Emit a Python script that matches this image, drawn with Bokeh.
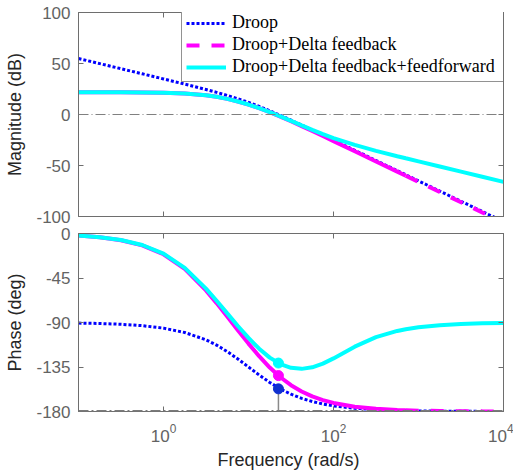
from bokeh.plotting import figure
from bokeh.models import (LogAxis, LinearAxis, FixedTicker, Span, Legend,
                          LegendItem, Range1d, CustomJSTickFormatter)
from bokeh.layouts import column
from bokeh.embed import file_html
from bokeh.resources import INLINE

# Bode data: frequency (rad/s), magnitude (dB) and phase (deg)
freq = [0.1, 0.1778, 0.3162, 0.5623, 1.0, 1.778, 3.162, 4.217, 5.623, 7.499,
        10.0, 13.34, 17.78, 23.71, 31.62, 42.17, 56.23, 74.99, 100.0, 177.8,
        316.2, 562.3, 707.9, 1000.0, 1778.0, 3162.0, 5623.0, 10000.0]

droop_mag = [54.9, 49.9, 44.9, 39.9, 34.86, 29.77, 24.49, 21.69, 18.71, 15.46,
             11.89, 7.96, 3.71, -0.81, -5.51, -10.34, -15.23, -20.18, -25.14,
             -35.11, -45.1, -55.1, -59.1, -65.1, -75.1, -85.1, -95.1, -105.1]
droop_phase = [-90.6, -91.0, -91.8, -93.2, -95.7, -100.1, -107.5, -112.9,
               -119.4, -126.9, -135.0, -143.1, -150.6, -157.1, -162.5, -166.7,
               -169.9, -172.4, -174.3, -176.8, -178.2, -179.0, -179.2, -179.4,
               -179.7, -179.8, -179.9, -179.9]

delta_mag = [21.80, 21.79, 21.77, 21.68, 21.43, 20.69, 18.87, 17.33, 15.30,
             12.76, 9.73, 6.21, 2.25, -2.06, -6.63, -11.37, -16.22, -21.13,
             -26.08, -36.04, -46.03, -56.02, -60.02, -66.02, -76.02, -86.02,
             -96.02, -106.02]
delta_phase = [-2.14, -3.81, -6.76, -11.97, -20.99, -35.81, -57.49, -70.39,
               -83.98, -97.80, -111.33, -124.11, -135.57, -145.36, -153.39,
               -159.75, -164.69, -168.46, -171.32, -175.11, -177.24, -178.45,
               -178.77, -179.13, -179.51, -179.73, -179.84, -179.91]

ff_mag = [21.80, 21.79, 21.77, 21.68, 21.43, 20.69, 18.87, 17.33, 15.31, 12.79,
          9.77, 6.28, 2.38, -1.82, -6.22, -10.66, -15.03, -19.19, -23.07,
          -29.85, -35.61, -40.89, -42.94, -45.98, -51.01, -56.02, -61.02,
          -66.02]
ff_phase = [-2.09, -3.71, -6.58, -11.65, -20.42, -34.79, -55.68, -67.98,
            -80.76, -93.51, -105.62, -116.51, -125.49, -132.02, -135.84,
            -136.88, -135.34, -131.59, -126.32, -114.47, -104.79, -98.53,
            -96.81, -94.84, -92.73, -91.54, -90.86, -90.48]

# phase at the gain crossover of each loop
margin_freq = [22.5, 22.5, 22.5]
margin_phase = [-157.1, -143.7, -131.0]

labels = ["Droop", "Droop+Delta feedback", "Droop+Delta feedback+feedforward"]
mag_ticks = [-100, -50, 0, 50, 100]
phase_ticks = [-180, -135, -90, -45, 0]
freq_ticks = [1, 100, 10000]

BLUE, MAGENTA, CYAN = "#0000FF", "#FF00FF", "#00FFFF"
AXIS_GRAY = "#6e6e6e"
TICK_TEXT = "#636363"
SANS = "Liberation Sans"

# the Delta-feedback trace switches to a dashed look above ~700 rad/s
split = freq.index(707.9)


def style_axis(ax, show_labels=True):
    ax.axis_line_color = AXIS_GRAY
    ax.major_tick_line_color = AXIS_GRAY
    ax.major_tick_in = 5
    ax.major_tick_out = 0
    ax.minor_tick_line_color = None
    ax.major_label_text_color = TICK_TEXT
    ax.major_label_text_font = SANS
    ax.axis_label_text_font = SANS
    ax.axis_label_text_font_style = "normal"
    ax.axis_label_text_font_size = "18px"
    ax.axis_label_text_color = "#262626"
    if show_labels:
        ax.major_label_text_font_size = "17px"
    else:
        # tick marks only
        ax.formatter = CustomJSTickFormatter(code="return ''")
        ax.major_label_text_font_size = "1px"
        ax.major_label_standoff = 0


def make_fig(height, yr, yticks, top, bottom, x_labels, **kw):
    p = figure(width=513, height=height, x_axis_type="log",
               x_range=Range1d(0.1, 1e4), y_range=Range1d(*yr),
               output_backend="svg", toolbar_location=None,
               min_border_left=78, min_border_right=10,
               min_border_top=top, min_border_bottom=bottom, **kw)
    p.grid.visible = False
    p.outline_line_color = AXIS_GRAY
    p.background_fill_color = "white"

    xax = p.below[0]
    yax = p.left[0]
    xax.ticker = FixedTicker(ticks=freq_ticks)
    yax.ticker = FixedTicker(ticks=yticks)
    style_axis(xax, x_labels)
    style_axis(yax)
    # plain hyphen for negative tick values
    yax.formatter = CustomJSTickFormatter(code="return tick.toString()")
    yax.major_label_standoff = 8
    yax.axis_label_standoff = 8

    top_ax = LogAxis(ticker=FixedTicker(ticks=freq_ticks))
    style_axis(top_ax, False)
    p.add_layout(top_ax, "above")
    right_ax = LinearAxis(ticker=FixedTicker(ticks=yticks))
    style_axis(right_ax, False)
    p.add_layout(right_ax, "right")
    return p, xax, yax


# ---- magnitude ----
p1, x1, y1 = make_fig(232, (-100, 100), mag_ticks, 12, 16, False)
p1.border_fill_color = "white"
y1.axis_label = "Magnitude (dB)"
p1.add_layout(Span(location=0, dimension="width", line_color="#808080",
                   line_width=1, line_dash="10 3 1 3"))

r1 = p1.line(freq, droop_mag, line_color=BLUE, line_width=3, line_dash="3 2")
p1.line(freq[:split + 1], delta_mag[:split + 1], line_color=MAGENTA,
        line_width=4)
r2 = p1.line(freq[split:], delta_mag[split:], line_color=MAGENTA,
             line_width=4, line_dash="13 12")
r3 = p1.line(freq, ff_mag, line_color=CYAN, line_width=4)

legend = Legend(items=[LegendItem(label=labels[0], renderers=[r1]),
                       LegendItem(label=labels[1], renderers=[r2]),
                       LegendItem(label=labels[2], renderers=[r3])],
                location=(103, 134))
legend.label_text_font = "Liberation Serif"
legend.label_text_font_size = "18px"
legend.label_text_color = "black"
legend.glyph_width = 40
legend.glyph_height = 20
legend.label_height = 20
legend.label_standoff = 6
legend.label_width = 268
legend.padding = 4
legend.spacing = 1
legend.margin = 0
legend.border_line_color = "#262626"
legend.border_line_width = 1
legend.background_fill_color = "white"
legend.background_fill_alpha = 1.0
p1.add_layout(legend)

# ---- phase ----
# the phase panel tucks up under the magnitude panel's bottom tick label
p2, x2, y2 = make_fig(250, (-180, 0), phase_ticks, 9, 63, True,
                      margin=(-8, 0, 0, 0))
p2.border_fill_alpha = 0
y2.axis_label = "Phase (deg)"
x2.axis_label = "Frequency  (rad/s)"
x2.major_label_standoff = 12
x2.axis_label_standoff = 5

p2.add_layout(Span(location=-180, dimension="width", line_color="#7a7a7a",
                   line_width=3, line_dash="10 3 2 3"))
p2.segment(x0=margin_freq[0], y0=-180, x1=margin_freq[0], y1=margin_phase[0],
           line_color="#8a8a8a", line_width=1.5)

p2.line(freq, droop_phase, line_color=BLUE, line_width=3, line_dash="3 2")
p2.line(freq[:split + 1], delta_phase[:split + 1], line_color=MAGENTA,
        line_width=4)
p2.line(freq[split:], delta_phase[split:], line_color=MAGENTA, line_width=4,
        line_dash="13 12")
p2.line(freq, ff_phase, line_color=CYAN, line_width=4)
p2.scatter(margin_freq, margin_phase, size=10,
           color=["#1030D0", MAGENTA, CYAN])

layout = column(p1, p2, spacing=0)
open("out.html", "w").write(file_html(layout, INLINE))
